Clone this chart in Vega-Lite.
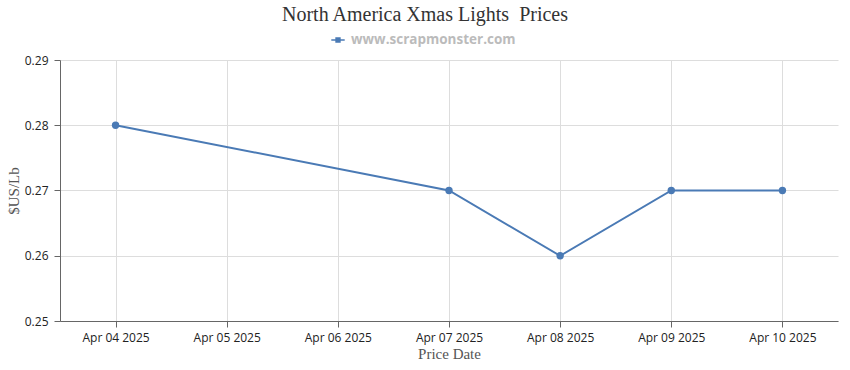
{
  "$schema": "https://vega.github.io/schema/vega-lite/v6.json",
  "width": 778,
  "height": 261,
  "autosize": {"type": "none"},
  "padding": {"left": 60, "top": 60, "right": 12, "bottom": 49},
  "background": "white",
  "title": {
    "text": "North America Xmas Lights \u00a0Prices",
    "font": "Liberation Serif",
    "fontSize": 20,
    "fontWeight": "normal",
    "color": "#333333",
    "anchor": "middle",
    "frame": "group",
    "dx": -24,
    "offset": 8
  },
  "config": {
    "view": {"stroke": null},
    "axis": {
      "labelFont": "Open Sans",
      "labelFontSize": 12,
      "labelColor": "#222222",
      "titleFont": "Liberation Serif",
      "titleFontSize": 15,
      "titleFontWeight": "normal",
      "titleColor": "#555555",
      "gridColor": "#dddddd",
      "domainColor": "#666666",
      "tickColor": "#666666",
      "tickSize": 6
    }
  },
  "data": {
    "values": [
      {"date": "2025-04-04", "price": 0.28, "series": "www.scrapmonster.com"},
      {"date": "2025-04-07", "price": 0.27, "series": "www.scrapmonster.com"},
      {"date": "2025-04-08", "price": 0.26, "series": "www.scrapmonster.com"},
      {"date": "2025-04-09", "price": 0.27, "series": "www.scrapmonster.com"},
      {"date": "2025-04-10", "price": 0.27, "series": "www.scrapmonster.com"}
    ]
  },
  "mark": {"type": "line", "strokeWidth": 2, "point": {"size": 55, "filled": true, "opacity": 1}},
  "encoding": {
    "x": {
      "field": "date",
      "type": "temporal",
      "timeUnit": "utcyearmonthdate",
      "scale": {"domain": [{"year": 2025, "month": 4, "date": 3, "hours": 12, "utc": true}, {"year": 2025, "month": 4, "date": 10, "hours": 12, "utc": true}]},
      "axis": {
        "title": "Price Date",
        "format": "%b %d %Y",
        "tickCount": {"interval": "day", "step": 1},
        "labelPadding": 5,
        "titlePadding": 3,
        "labelFlush": false
      }
    },
    "y": {
      "field": "price",
      "type": "quantitative",
      "scale": {"domain": [0.25, 0.29], "nice": false, "zero": false},
      "axis": {
        "title": "$US/Lb",
        "values": [0.25, 0.26, 0.27, 0.28, 0.29],
        "format": ".2f",
        "labelPadding": 6,
        "titlePadding": 3
      }
    },
    "color": {
      "field": "series",
      "type": "nominal",
      "scale": {"range": ["#4A7AB5"]},
      "legend": {
        "title": null,
        "orient": "none",
        "legendX": 271,
        "legendY": -27,
        "symbolType": "M-1,-0.12H1V0.12H-1Z M-0.4,-0.4H0.4V0.4H-0.4Z",
        "symbolSize": 180,
        "symbolStrokeWidth": 0,
        "symbolOpacity": 1,
        "labelFont": "Open Sans",
        "labelFontSize": 13.5,
        "labelFontWeight": "bold",
        "labelColor": "#bbbbbb",
        "labelOffset": 6,
        "labelLimit": 400
      }
    }
  }
}
